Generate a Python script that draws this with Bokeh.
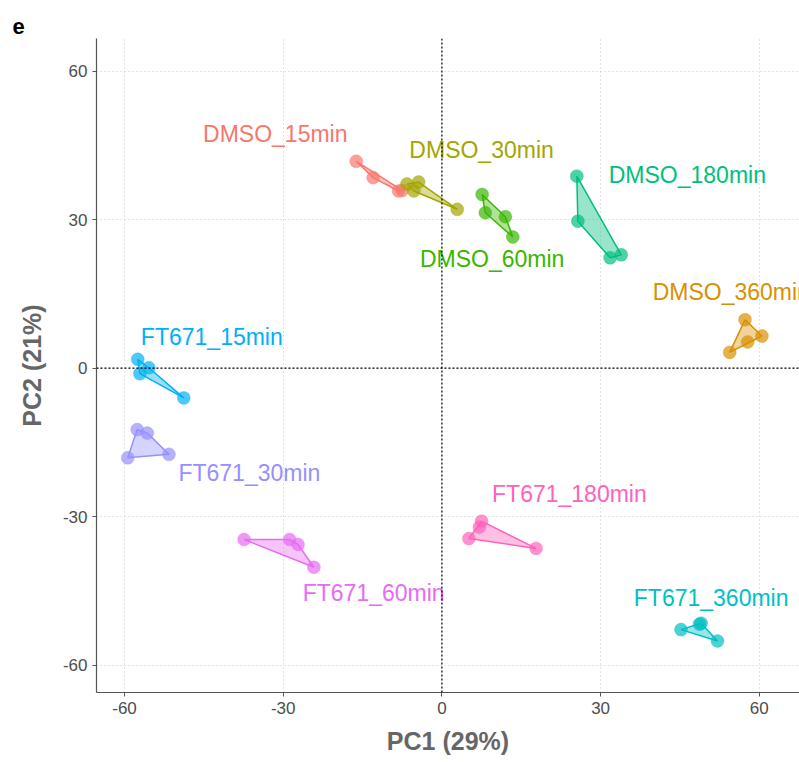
from bokeh.plotting import figure
from bokeh.models import Range1d, FixedTicker, Span, ColumnDataSource
from bokeh.core.properties import value
from bokeh.embed import file_html
from bokeh.resources import INLINE

# PCA scores per group (PC1, PC2)
groups = ["DMSO_15min", "DMSO_30min", "DMSO_60min", "DMSO_180min", "DMSO_360min",
          "FT671_15min", "FT671_30min", "FT671_60min", "FT671_180min", "FT671_360min"]
colors = ["#F8766D", "#A3A500", "#39B600", "#00BF7D", "#D89000",
          "#00B0F6", "#9590FF", "#E76BF3", "#FF62BC", "#00BFC4"]

pc1_dmso_15 = [-16.2, -13.0, -8.2, -7.5]
pc2_dmso_15 = [41.8, 38.5, 35.8, 35.9]
pc1_dmso_30 = [-6.6, -4.4, -5.3, 2.9]
pc2_dmso_30 = [37.2, 37.6, 35.8, 32.1]
pc1_dmso_60 = [7.6, 8.2, 12.0, 13.4]
pc2_dmso_60 = [35.1, 31.4, 30.6, 26.5]
pc1_dmso_180 = [25.5, 25.7, 31.8, 33.9]
pc2_dmso_180 = [38.8, 29.7, 22.3, 22.9]
pc1_dmso_360 = [57.3, 60.5, 54.4, 57.8]
pc2_dmso_360 = [9.8, 6.5, 3.2, 5.3]
pc1_ft_15 = [-57.5, -55.4, -57.1, -48.8]
pc2_ft_15 = [1.8, 0.1, -1.1, -6.0]
pc1_ft_30 = [-57.6, -55.7, -59.4, -51.6]
pc2_ft_30 = [-12.4, -13.1, -18.1, -17.4]
pc1_ft_60 = [-37.4, -28.8, -27.2, -24.2]
pc2_ft_60 = [-34.6, -34.6, -35.6, -40.2]
pc1_ft_180 = [7.5, 7.1, 5.1, 17.8]
pc2_ft_180 = [-30.9, -32.1, -34.4, -36.4]
pc1_ft_360 = [45.2, 48.7, 49.0, 52.1]
pc2_ft_360 = [-52.8, -51.7, -51.5, -55.1]

pc1 = [pc1_dmso_15, pc1_dmso_30, pc1_dmso_60, pc1_dmso_180, pc1_dmso_360,
       pc1_ft_15, pc1_ft_30, pc1_ft_60, pc1_ft_180, pc1_ft_360]
pc2 = [pc2_dmso_15, pc2_dmso_30, pc2_dmso_60, pc2_dmso_180, pc2_dmso_360,
       pc2_ft_15, pc2_ft_30, pc2_ft_60, pc2_ft_180, pc2_ft_360]

# group label anchors
label_x = [-31.5, 7.5, 9.5, 46.4, 54.7, -43.5, -36.4, -12.9, 24.1, 50.9]
label_y = [47.4, 44.0, 22.0, 39.1, 15.3, 6.4, -21.2, -45.5, -25.5, -46.5]

ticks = [-60, -30, 0, 30, 60]
tick_labels = ["-60", "-30", "0", "30", "60"]


def convex_hull(xs, ys):
    pts = sorted(set(zip(xs, ys)))
    if len(pts) <= 2:
        return pts

    def cross(o, a, b):
        return (a[0] - o[0]) * (b[1] - o[1]) - (a[1] - o[1]) * (b[0] - o[0])

    lower, upper = [], []
    for pt in pts:
        while len(lower) >= 2 and cross(lower[-2], lower[-1], pt) <= 0:
            lower.pop()
        lower.append(pt)
    for pt in reversed(pts):
        while len(upper) >= 2 and cross(upper[-2], upper[-1], pt) <= 0:
            upper.pop()
        upper.append(pt)
    return lower[:-1] + upper[:-1]


p = figure(width=799, height=762, output_backend="svg", toolbar_location=None,
           x_range=Range1d(-65.3, 67.6), y_range=Range1d(-65.5, 66.6),
           min_border_left=96, min_border_right=0, min_border_top=38,
           min_border_bottom=70)
p.outline_line_color = None
p.background_fill_color = "white"

p.title.text = "e"
p.title.text_font = "Liberation Sans"
p.title.text_font_size = "22px"
p.title.text_font_style = "bold"
p.title.text_color = "black"
p.title.align = "left"
p.title.offset = -84
p.title.standoff = 10

for ax in (p.xaxis, p.yaxis):
    ax.ticker = FixedTicker(ticks=ticks)
    ax.major_label_overrides = {t: s for t, s in zip(ticks, tick_labels)}
    ax.minor_tick_line_color = None
    ax.major_tick_in = 0
    ax.major_tick_out = 4
    ax.axis_line_color = "#555555"
    ax.axis_line_width = 1.2
    ax.major_tick_line_color = "#555555"
    ax.major_label_text_font = "Liberation Sans"
    ax.major_label_text_font_size = "17px"
    ax.major_label_text_color = "#4D4D4D"
    ax.axis_label_text_font = "Liberation Sans"
    ax.axis_label_text_font_size = "25px"
    ax.axis_label_text_font_style = "bold"
    ax.axis_label_text_color = "#666666"

p.xaxis.axis_label = "PC1 (29%)"
p.yaxis.axis_label = "PC2 (21%)"
p.yaxis.major_label_orientation = 0
p.xaxis.axis_label_standoff = 10
p.yaxis.axis_label_standoff = 14

for g in (p.xgrid, p.ygrid):
    g.ticker = FixedTicker(ticks=ticks)
    g.grid_line_color = "#C8C8C8"
    g.grid_line_dash = "1 3"
    g.grid_line_width = 1

p.add_layout(Span(location=0, dimension="width", line_color="black",
                  line_dash="2 2", line_width=1.2))
p.add_layout(Span(location=0, dimension="height", line_color="black",
                  line_dash="2 2", line_width=1.2))

for xs, ys, c in zip(pc1, pc2, colors):
    hull = convex_hull(xs, ys)
    p.patch([h[0] for h in hull], [h[1] for h in hull], fill_color=c,
            fill_alpha=0.4, line_color=c, line_width=1.5)
    p.scatter(xs, ys, size=13, fill_color=c, fill_alpha=0.7, line_color=c,
              line_alpha=0.3)

src = ColumnDataSource(dict(x=label_x, y=label_y, t=groups, c=colors))
p.text("x", "y", text="t", text_color="c", source=src, text_align="center",
       text_baseline="middle", text_font=value("Liberation Sans"),
       text_font_size="23px")

open("out.html", "w").write(file_html(p, INLINE))
